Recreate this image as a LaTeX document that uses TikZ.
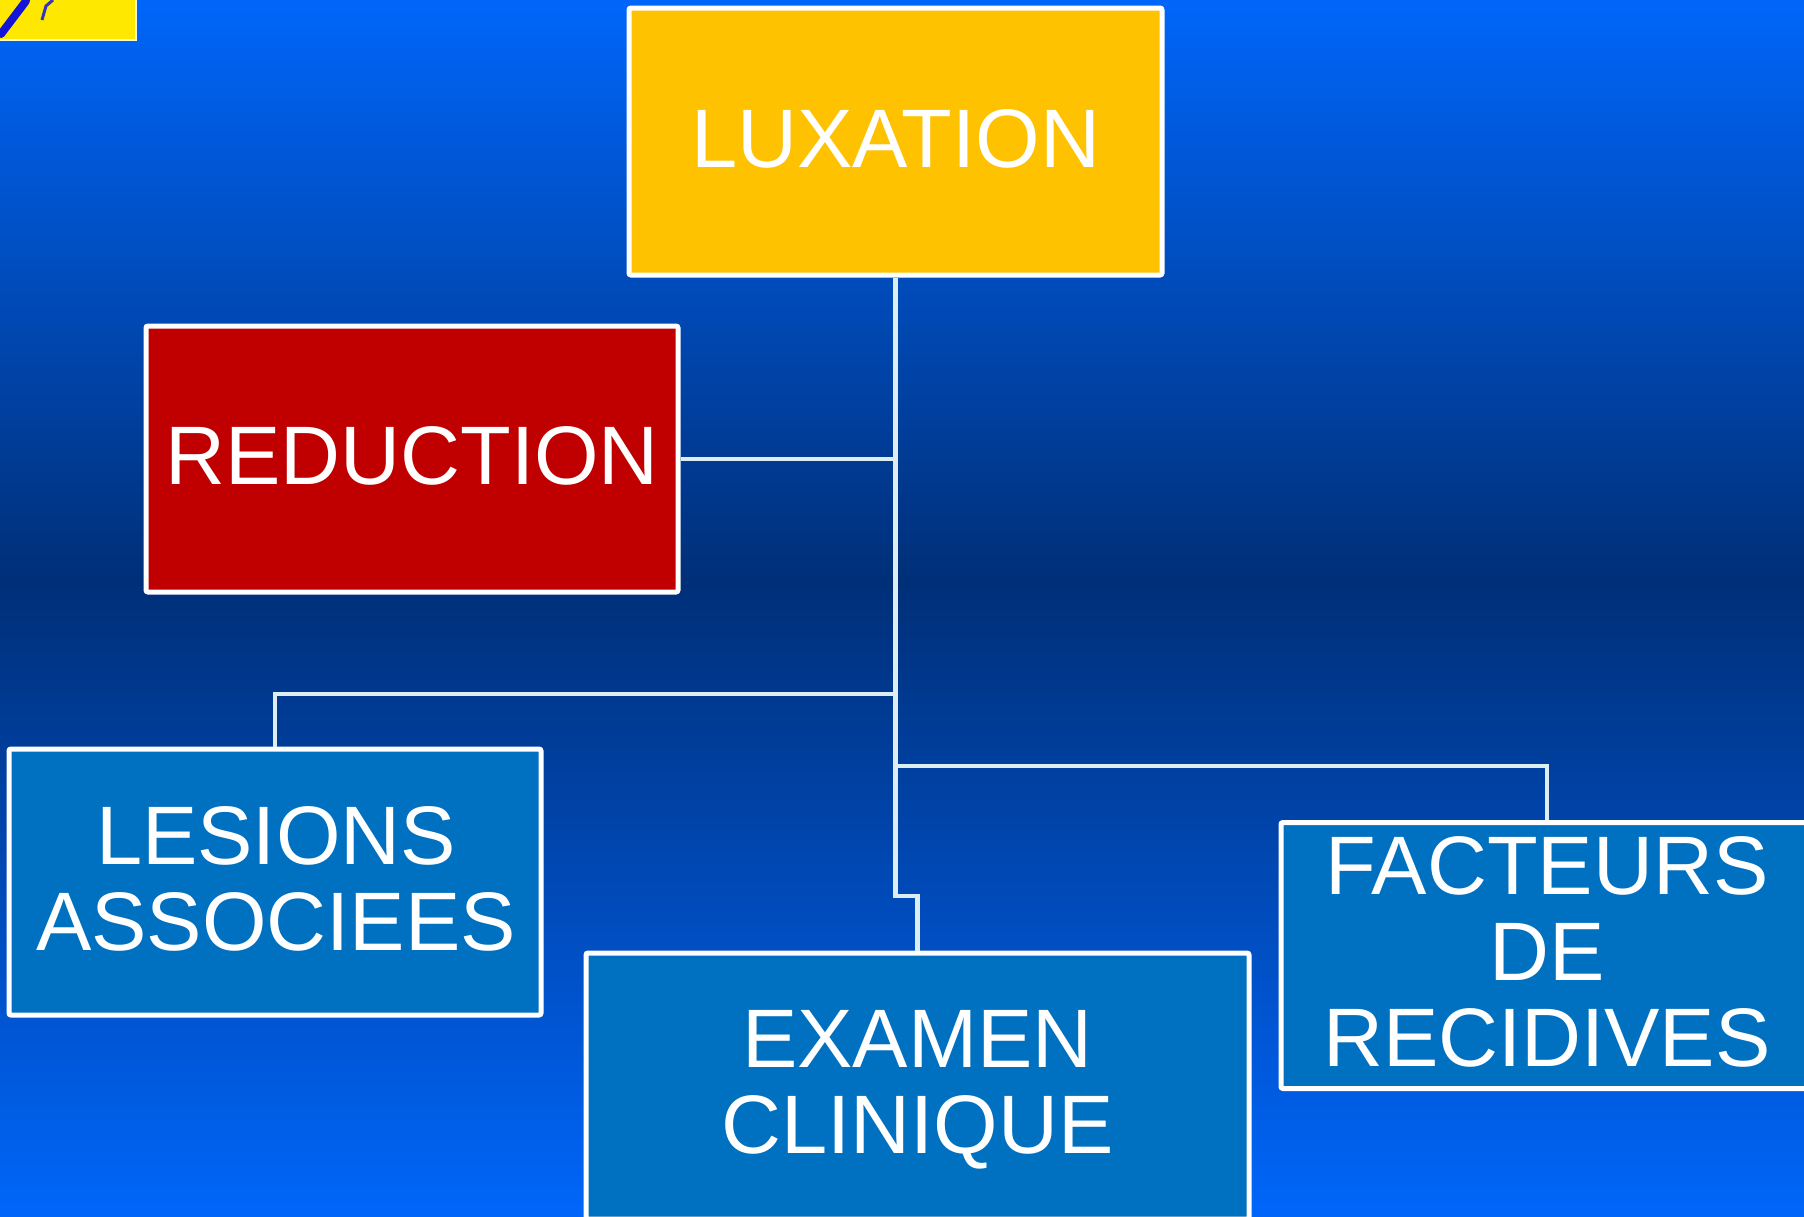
\documentclass[tikz,border=0pt]{standalone}
\usepackage{fontspec}
\setmainfont{Liberation Sans}
\usetikzlibrary{calc}

\definecolor{bgbright}{HTML}{0066FA}
\definecolor{bgdark}{HTML}{002F78}
\definecolor{luxfill}{HTML}{FFC200}
\definecolor{redfill}{HTML}{C00000}
\definecolor{bluefill}{HTML}{0070C0}
\definecolor{linkcol}{HTML}{DCEEF2}
\definecolor{cornerfill}{HTML}{FFE800}
\definecolor{cornerink}{HTML}{1414D8}

\tikzset{
  chartbox/.style={draw=white, line width=2.5pt, rounded corners=1pt,
    minimum width=266pt, minimum height=133pt, inner sep=0pt},
  chartlabel/.style={text=white, align=center, anchor=base, inner sep=0pt,
    font=\fontsize{41.5}{43}\selectfont},
  link/.style={draw=linkcol, line width=2.4pt, line join=miter}
}

\begin{document}
\begin{tikzpicture}[x=0.5pt,y=-0.5pt]
  \useasboundingbox (0,0) rectangle (1804,1216);
  \clip (0,0) rectangle (1804,1216);

  % background: bright at top and bottom, darkest band in between
  \shade[top color=bgbright, bottom color=bgdark] (0,0) rectangle (1804,582);
  \shade[top color=bgdark, bottom color=bgbright] (0,581) rectangle (1804,1216);

  % small yellow tab in the top left corner
  \fill[cornerfill] (0,0) rectangle (136,40);
  \draw[white!80!cornerfill, line width=0.8pt] (136,0) -- (136,40) -- (0,40);
  \draw[cornerink, line width=4pt, line cap=round] (1,34) -- (26,1);
  \draw[cornerink!70!gray, line width=1.5pt] (42,20) -- (46,6) -- (53,0);

  % junction points on the trunk below LUXATION
  \coordinate (luxbottom) at (895.5,275);
  \coordinate (trunkend) at ($(luxbottom)+(0,621)$);
  \coordinate (lesjoin) at ($(luxbottom)+(0,419)$);
  \coordinate (facjoin) at ($(luxbottom)+(0,491)$);

  % boxes
  \node[chartbox, fill=luxfill, minimum width=266.5pt, minimum height=133.5pt] (lux) at (895.5,141.5) {};
  \node[chartbox, fill=redfill] (red) at (412,459) {};
  \node[chartbox, fill=bluefill] (les) at (275,882) {};
  \node[chartbox, fill=bluefill, minimum width=331.5pt] (exam) at (917.5,1086) {};
  \node[chartbox, fill=bluefill] (fac) at (1547,955.5) {};

  % connectors
  \draw[link] (lux.south) -- (trunkend) -- (trunkend -| exam.north) -- (exam.north);
  \draw[link] (red.east) -- (red.east -| lux.south);
  \draw[link] (les.north) |- (lesjoin);
  \draw[link] (fac.north) |- (facjoin);

  % labels (anchored on the baseline of the last line)
  \node[chartlabel] (luxtxt) at ($(lux.center)+(0,25.5)$) {LUXATION};
  \node[chartlabel] (redtxt) at ($(red.center)+(0,25)$) {REDUCTION};
  \node[chartlabel] (lestxt) at ($(les.center)+(1,68)$) {LESIONS\\ASSOCIEES};
  \node[chartlabel] (examtxt) at ($(exam.center)+(0,67)$) {EXAMEN\\CLINIQUE};
  \node[chartlabel] (factxt) at ($(fac.center)+(0,110.5)$) {FACTEURS\\DE\\RECIDIVES};
\end{tikzpicture}
\end{document}
